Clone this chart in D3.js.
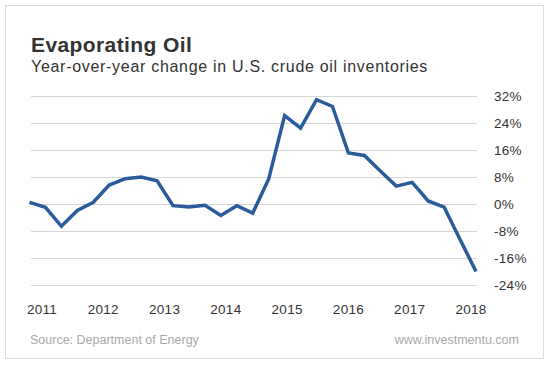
<!DOCTYPE html>
<html>
<head>
<meta charset="utf-8">
<script src="https://cdn.jsdelivr.net/npm/d3@7"></script>
<style>
  body { margin: 0; background: #fff; }
  svg { display: block; font-family: "Liberation Sans", Arial, sans-serif; }
  .grid line { stroke: #d6d6d6; stroke-width: 1; }
  .grid path { display: none; }
  .eje path, .eje line { display: none; }
  .eje text { fill: #333; font-size: 13.5px; letter-spacing: 0.3px; }
</style>
</head>
<body>
<div id="graf"></div>
<script>
// datos (cambio anual %, trimestral 2011 T1 - 2018 T1)
var trimestres = d3.range(29)
var cambio = [0.5, -1.0, -6.6, -1.9, 0.5, 5.6, 7.5, 8.0, 6.9, -0.5, -0.9, -0.4, -3.4, -0.5, -2.7,
              7.4, 26.2, 22.5, 30.9, 28.9, 15.1, 14.4, 9.8, 5.3, 6.4, 0.9, -0.9, -10.5, -20.0]
var anios = ['2011', '2012', '2013', '2014', '2015', '2016', '2017', '2018']
var ticksY = [32, 24, 16, 8, 0, -8, -16, -24]

var ancho_total = 550, alto_total = 369

var svg = d3.select('#graf').append('svg')
            .attr('width', ancho_total)
            .attr('height', alto_total)

// marco
svg.append('rect')
   .attr('x', 5.5).attr('y', 5.5)
   .attr('width', 538).attr('height', 353)
   .attr('fill', '#fff')
   .attr('stroke', '#dcdcdc')
   .attr('stroke-width', 1)

// titulos
svg.append('text')
   .attr('x', 31).attr('y', 52)
   .attr('fill', '#333')
   .style('font-size', '21px')
   .style('font-weight', 'bold')
   .style('letter-spacing', '0.4px')
   .text('Evaporating Oil')

svg.append('text')
   .attr('x', 31).attr('y', 72)
   .attr('fill', '#333')
   .style('font-size', '16px')
   .style('letter-spacing', '0.7px')
   .text('Year-over-year change in U.S. crude oil inventories')

// escalas
var y = d3.scaleLinear().domain([-24, 32]).range([285, 96])
var x = d3.scaleLinear().domain([0, 28]).range([29.5, 476])
var xAnio = d3.scalePoint().domain(anios).range([41.5, 470.5])

// lineas de cuadricula
svg.append('g')
   .attr('class', 'grid')
   .attr('transform', 'translate(31, 0)')
   .call(d3.axisRight(y).tickValues(ticksY).tickSize(446).tickFormat(''))

// eje y a la derecha
var yAxisGroup = svg.append('g')
   .attr('class', 'eje')
   .attr('transform', 'translate(494, 0)')
   .call(d3.axisRight(y).tickValues(ticksY).tickSize(0).tickPadding(0).tickFormat(d => d + '%'))
yAxisGroup.selectAll('text').attr('text-anchor', 'start')

// eje x
svg.append('g')
   .attr('class', 'eje')
   .attr('transform', 'translate(0, 300)')
   .call(d3.axisBottom(xAnio).tickSize(0).tickPadding(4))

// linea de datos
var linea = d3.line()
              .x(d => x(d))
              .y((d, i) => y(cambio[i]))

svg.append('path')
   .datum(trimestres)
   .attr('d', linea)
   .attr('fill', 'none')
   .attr('stroke', '#2a5b9a')
   .attr('stroke-width', 3.5)
   .attr('stroke-linejoin', 'miter')

// notas al pie
svg.append('text')
   .attr('x', 30).attr('y', 344)
   .attr('fill', '#aaa')
   .style('font-size', '12.5px')
   .text('Source: Department of Energy')

svg.append('text')
   .attr('x', 519).attr('y', 344)
   .attr('text-anchor', 'end')
   .attr('fill', '#aaa')
   .style('font-size', '12.5px')
   .text('www.investmentu.com')
</script>
</body>
</html>
